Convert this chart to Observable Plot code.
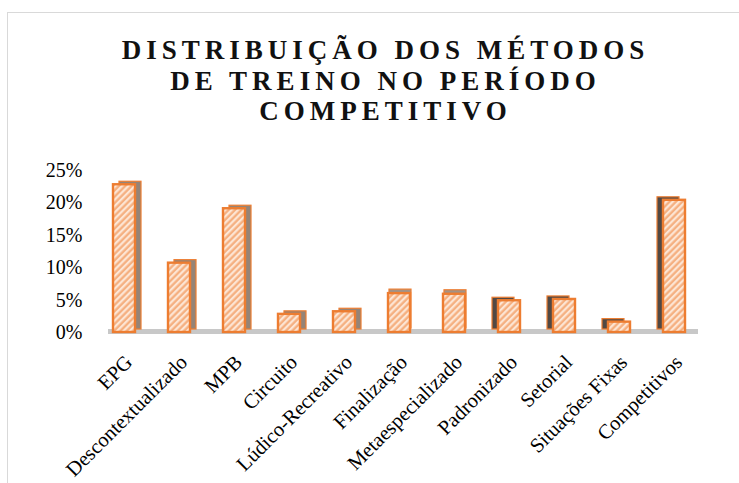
<!DOCTYPE html>
<html>
<head>
<meta charset="utf-8">
<script src="https://cdn.jsdelivr.net/npm/d3@7"></script>
<script src="https://cdn.jsdelivr.net/npm/@observablehq/plot@0.6"></script>
<style>
  html, body { margin: 0; padding: 0; background: #fff; }
  body { position: relative; width: 739px; height: 483px; overflow: hidden; font-family: "Liberation Serif", "Times New Roman", serif; }
  #frame { position: absolute; left: 7px; top: 12px; width: 800px; height: 600px; border-left: 1px solid #d9d9d9; border-top: 1px solid #d9d9d9; }
  #title { position: absolute; left: 0; top: 0; width: 739px; height: 150px; box-sizing: border-box; padding-top: 35px; padding-left: 32px;
           text-align: center; font-family: "Liberation Serif", "Times New Roman", serif; font-weight: bold; font-size: 27px;
           letter-spacing: 5px; line-height: 30.5px; color: #111; }
  #chart { position: absolute; left: 0; top: 150px; }
</style>
</head>
<body>
<div id="frame"></div>
<div id="title"></div>
<div id="chart"></div>
<script>
const titleLines = ["DISTRIBUIÇÃO DOS MÉTODOS", "DE TREINO NO PERÍODO", "COMPETITIVO"];
const categories = ["EPG", "Descontextualizado", "MPB", "Circuito", "Lúdico-Recreativo", "Finalização",
  "Metaespecializado", "Padronizado", "Setorial", "Situações Fixas", "Competitivos"];
const values = [22.8, 10.7, 19.1, 2.8, 3.2, 6.0, 5.9, 4.9, 5.1, 1.6, 20.4];
const yTicks = [0, 5, 10, 15, 20, 25];

document.getElementById("title").innerHTML = titleLines.join("<br>");

const data = categories.map((c, i) => ({cat: c, val: values[i], i}));
const rightSide = data.filter(d => d.i < 5);
const topOnly = data.filter(d => d.i >= 5 && d.i < 7);
const leftSide = data.filter(d => d.i >= 7);

const font = "Liberation Serif, Times New Roman, serif";
const orange = "#ED7D31";

const chart = Plot.plot({
  width: 739,
  height: 333,
  marginLeft: 94,
  marginRight: 35,
  marginTop: 20,
  marginBottom: 151,
  style: {fontFamily: font, fontSize: "20px", color: "#000", background: "transparent"},
  x: {domain: categories, paddingInner: 0.6, paddingOuter: 0.3, axis: null},
  y: {domain: [0, 25], axis: null},
  marks: [
    Plot.ruleY([0], {stroke: "#c8c8c8", strokeWidth: 5, dy: -1, insetLeft: 14, insetRight: 6}),
    Plot.barY(rightSide, {x: "cat", y: "val", fill: "#958477", stroke: orange, strokeWidth: 1.2, dx: 6, dy: -3}),
    Plot.barY(topOnly, {x: "cat", y: "val", fill: "#a39285", stroke: orange, strokeWidth: 1.2, dx: 1, dy: -4}),
    Plot.barY(leftSide, {x: "cat", y: "val", fill: "#514944", stroke: orange, strokeWidth: 1.2, dx: -6, dy: -3}),
    Plot.barY(data, {x: "cat", y: "val", fill: "url(#hatch)", stroke: orange, strokeWidth: 2.4}),
    Plot.axisY({ticks: yTicks, tickSize: 0, tickPadding: 12, tickFormat: d => d + "%", fontSize: 20, fill: "#000", label: null}),
    Plot.text(categories, {x: d => d, frameAnchor: "bottom", rotate: -45, textAnchor: "end", lineAnchor: "bottom",
      dx: 9, dy: 31, fontSize: 20.5, fill: "#000"})
  ]
});

const defs = document.createElementNS("http://www.w3.org/2000/svg", "defs");
defs.innerHTML = `<pattern id="hatch" patternUnits="userSpaceOnUse" width="4.5" height="4.5" patternTransform="rotate(45)">
  <rect width="4.5" height="4.5" fill="#fde6d5"></rect>
  <line x1="1.5" y1="0" x2="1.5" y2="4.5" stroke="#f5ad7c" stroke-width="2.2"></line>
</pattern>`;
chart.insertBefore(defs, chart.firstChild);
document.getElementById("chart").appendChild(chart);
</script>
</body>
</html>
